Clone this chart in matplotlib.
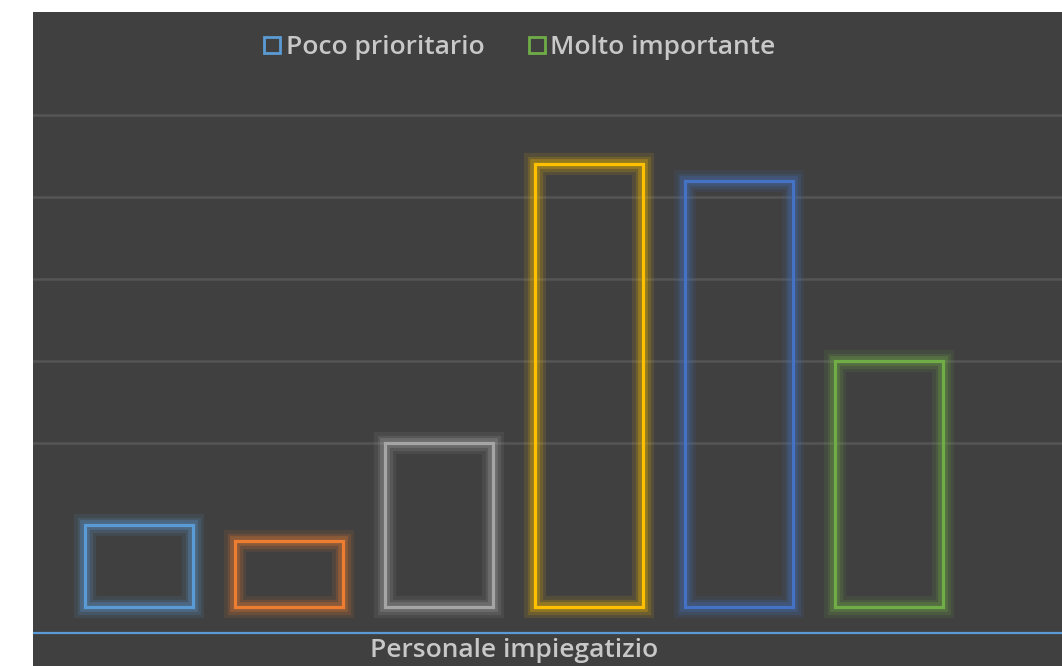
import matplotlib.pyplot as plt
from matplotlib.lines import Line2D

# Data
category = "Personale impiegatizio"
values = [1.0, 0.8, 2.0, 5.4, 5.2, 3.0]
colors = ['#5B9BD5', '#ED7D31', '#A5A5A5', '#FFC000', '#4472C4', '#70AD47']
legend_labels = ['Poco prioritario', 'Molto importante']
legend_colors = ['#5B9BD5', '#70AD47']
grid_levels = [2, 3, 4, 5, 6]

plt.rcParams['font.family'] = ['Open Sans', 'DejaVu Sans']

fig = plt.figure(figsize=(10.62, 6.66), dpi=100, facecolor='white')
ax = fig.add_axes([33 / 1062, 0, 1029 / 1062, 654 / 666])
ax.set_facecolor('#404040')

x = list(range(len(values)))

# gridlines
for g in grid_levels:
    ax.axhline(g, color='#555555', lw=1.8, zorder=1)

# glowing outlined bars
for lw, a in [(16, 0.1), (11, 0.16), (7, 0.26)]:
    ax.bar(x, values, width=0.72, fill=False, edgecolor=colors, linewidth=lw,
           alpha=a, zorder=2)
ax.bar(x, values, width=0.72, fill=False, edgecolor=colors, linewidth=2.3, zorder=3)

# horizontal axis line
ax.axhline(-0.317, color='#5B9BD5', lw=1.6, zorder=3)

ax.set_xlim(-0.707, 6.153)
ax.set_ylim(-0.72, 7.256)
ax.set_xticks([])
ax.set_yticks([])
for s in ax.spines.values():
    s.set_visible(False)

ax.text(2.5, -0.53, category, ha='center', va='center', color='#C8C8C8',
        fontsize=19, fontweight='semibold')

handles = [Line2D([], [], linestyle='none', marker='s', markersize=12,
                  markerfacecolor='none', markeredgecolor=c, markeredgewidth=2)
           for c in legend_colors]
ax.legend(handles, legend_labels, loc='center', bbox_to_anchor=(0.472, 0.946),
          ncol=2, frameon=False, labelcolor='#C8C8C8',
          prop={'weight': 'semibold', 'size': 19},
          handletextpad=0.1, columnspacing=1.6, handlelength=0.8)

fig.savefig('out.png', dpi=100, facecolor='white')
